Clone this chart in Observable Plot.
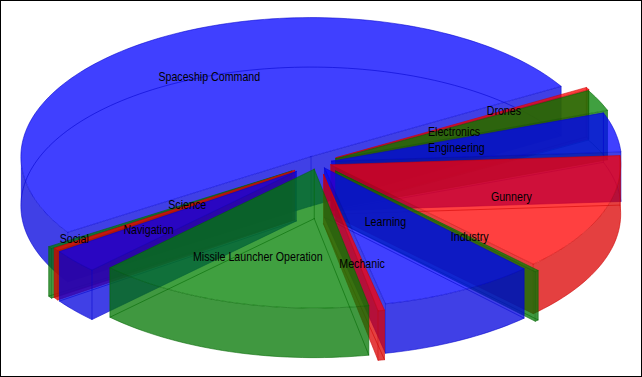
<!DOCTYPE html>
<html>
<head>
<meta charset="utf-8">
<style>html,body{margin:0;padding:0;background:#fff}</style>
<script src="https://cdn.jsdelivr.net/npm/d3@7"></script>
<script src="https://cdn.jsdelivr.net/npm/@observablehq/plot@0.6"></script>
</head>
<body>
<div id="chart"></div>
<script>
// Data: slices in counter-clockwise order, beginning at the Social slice
const labels = ["Social","Science","Navigation","Missile Launcher Operation","Mechanic","Learning","Industry","Gunnery","Engineering","Electronics","Drones","Spaceship Command"];
const values = [1, 1.2, 10, 55.7, 1.3, 31.4, 0.8, 49.5, 16.6, 9, 1, 182.8];
const explode = [0.11, 0.1, 0.1, 0.05, 0.087, 0.044, 0.085, 0.045, 0.046, 0.065, 0.07, 0.05];
const labelRadius = [0.9, 0.45, 0.667, 0.667, 0.667, 0.45, 0.667, 0.667, 0.44, 0.45, 0.667, 0.667];
const palette = [[0,128,0],[255,0,0],[0,0,255]];
const wallShades = [0.92, 0.86, 0.87];
const drawOrder = ["Spaceship Command","Social","Science","Navigation","Drones","Electronics","Engineering","Gunnery","Industry","Learning","Mechanic","Missile Launcher Operation"];

// Projection settings
const W = 642, H = 377, cx = 318, cy = 162, rx = 290, ry = 139, depth = 49.5 / ry;
const startAngle = 213, rad = Math.PI / 180, textSqueeze = 0.82;

const total = d3.sum(values);
let cursor = startAngle;
const slices = labels.map((label, i) => {
  const t1 = cursor, t2 = cursor + values[i] / total * 360;
  cursor = t2;
  const mid = (t1 + t2) / 2 * rad;
  return {
    label, t1, t2, mid,
    ox: explode[i] * Math.cos(mid), oy: explode[i] * Math.sin(mid),
    color: palette[i % 3], shade: wallShades[i % 3], r: labelRadius[i]
  };
});
const bySlice = new Map(slices.map(s => [s.label, s]));
const rgb = (c, k = 1) => `rgb(${c.map(v => Math.round(v * k)).join(",")})`;

function arc(s, a, b, z) {
  const n = Math.max(2, Math.ceil(Math.abs(b - a) / 1.5));
  return d3.range(n + 1).map(j => {
    const t = (a + (b - a) * j / n) * rad;
    return {x: s.ox + Math.cos(t), y: s.oy + Math.sin(t) - z};
  });
}
const apex = (s, z) => ({x: s.ox, y: s.oy - z});

function faces(s) {
  const out = [];
  const top = [apex(s, 0), ...arc(s, s.t1, s.t2, 0), apex(s, 0)];
  const bottom = [apex(s, depth), ...arc(s, s.t1, s.t2, depth), apex(s, depth)];
  const wallFill = rgb(s.color, s.shade);
  const edge = rgb(s.color, 0.8);
  const fill = (pts, f) => out.push(Plot.line(pts, {x: "x", y: "y", fill: f, fillOpacity: 0.75, stroke: "none", curve: "linear"}));
  const line = pts => out.push(Plot.line(pts, {x: "x", y: "y", stroke: edge, strokeOpacity: 0.55, strokeWidth: 1, curve: "linear"}));
  // viewer-facing walls only
  if (Math.sin((s.t1 - 90) * rad) < 0) {
    const e = arc(s, s.t1, s.t1, 0)[0], f = arc(s, s.t1, s.t1, depth)[0];
    fill([apex(s, 0), e, f, apex(s, depth)], wallFill);
  }
  if (Math.sin((s.t2 + 90) * rad) < 0) {
    const e = arc(s, s.t2, s.t2, 0)[0], f = arc(s, s.t2, s.t2, depth)[0];
    fill([apex(s, 0), e, f, apex(s, depth)], wallFill);
  }
  // front part of the outer wall
  const front = [];
  for (let k = Math.floor(s.t1 / 360); k <= Math.ceil(s.t2 / 360); k++) {
    const a = Math.max(s.t1, 180 + 360 * k), b = Math.min(s.t2, 360 + 360 * k);
    if (b > a) front.push([a, b]);
  }
  for (const [a, b] of front) {
    fill([...arc(s, a, b, 0), ...arc(s, a, b, depth).reverse()], wallFill);
  }
  fill(top, rgb(s.color));
  line(top);
  line(bottom);
  for (const t of [s.t1, s.t2]) line([arc(s, t, t, 0)[0], arc(s, t, t, depth)[0]]);
  line([apex(s, 0), apex(s, depth)]);
  return out;
}

const textRows = slices.map(s => ({
  label: s.label,
  x: s.ox + s.r * Math.cos(s.mid),
  y: s.oy + s.r * Math.sin(s.mid)
}));

const chart = Plot.plot({
  width: W, height: H, margin: 0,
  style: {background: "#fff"},
  x: {axis: null, domain: [-cx / rx, (W - cx) / rx]},
  y: {axis: null, domain: [-(H - cy) / ry, cy / ry]},
  marks: [
    ...drawOrder.flatMap(name => faces(bySlice.get(name))),
    Plot.text(textRows, {
      x: "x", y: "y", dy: -1, text: "label", fill: "black", fontSize: 13,
      fontFamily: "'Liberation Sans',sans-serif", lineAnchor: "middle", textAnchor: "middle",
      render(index, scales, values, dimensions, context, next) {
        const g = next(index, scales, values, dimensions, context);
        g.querySelectorAll("text").forEach(t => {
          const tr = t.getAttribute("transform") || "";
          t.setAttribute("transform", `${tr} scale(${textSqueeze},1)`);
        });
        return g;
      }
    }),
    Plot.frame({stroke: "black", strokeWidth: 1, insetRight: 1, insetBottom: 1})
  ]
});
document.getElementById("chart").append(chart);
</script>
</body>
</html>
